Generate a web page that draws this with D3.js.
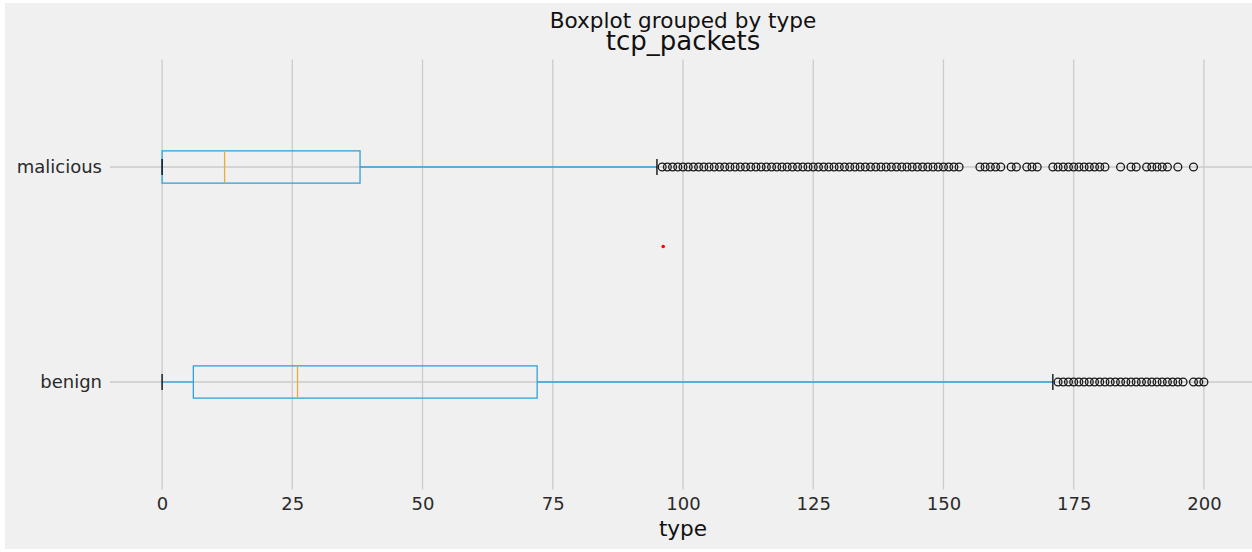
<!DOCTYPE html>
<html>
<head>
<meta charset="utf-8">
<script src="https://cdn.jsdelivr.net/npm/d3@7"></script>
<style>
  html, body { margin: 0; padding: 0; background: #ffffff; }
  svg { display: block; }
  text { font-family: "DejaVu Sans", sans-serif; }
</style>
</head>
<body>
<svg id="chart" width="1252" height="552"></svg>
<script>
// tcp_packets distribution per traffic type (box statistics + fliers)
const categories   = ["benign", "malicious"];
const positions    = [1, 2];
const whiskerLow   = [0, 0];
const q1           = [6, 0];
const medians      = [26, 12];
const q3           = [72, 38];
const whiskerHigh  = [171, 95];

const benignFliers = [
  172, 173, 174, 175, 176, 177, 178, 179, 180, 181, 182, 183, 184, 185,
  186, 187, 188, 189, 190, 191, 192, 193, 194, 195, 196, 198, 199, 200
];
const maliciousFliers = [
  96, 97, 98, 99, 100, 101, 102, 103, 104, 105, 106, 107, 108, 109, 110,
  111, 112, 113, 114, 115, 116, 117, 118, 119, 120, 121, 122, 123, 124, 125,
  126, 127, 128, 129, 130, 131, 132, 133, 134, 135, 136, 137, 138, 139, 140,
  141, 142, 143, 144, 145, 146, 147, 148, 149, 150, 151, 152, 153,
  157, 158, 159, 160, 161, 163, 164, 166, 167, 168,
  171, 172, 173, 174, 175, 176, 177, 178, 179, 180, 181,
  184, 186, 187, 189, 190, 191, 192, 193, 195, 198
];
const fliers = [benignFliers, maliciousFliers];

// single highlighted point
const markerX = [96.2];
const markerY = [1.63];

const xTicks = [0, 25, 50, 75, 100, 125, 150, 175, 200];

const svg = d3.select("#chart");

// figure background
svg.append("rect")
  .attr("x", 5).attr("y", 3)
  .attr("width", 1247).attr("height", 546)
  .attr("fill", "#f0f0f0");

const x = d3.scaleLinear().domain([-10, 210]).range([110, 1256]);
const y = d3.scaleLinear().domain([0.5, 2.5]).range([489.5, 59.5]);
const boxHalf = (y(0) - y(0.15)) / 2;
const capHalf = boxHalf / 2;

const plot = svg.append("g");

// grid
plot.append("g").selectAll("line")
  .data(xTicks).join("line")
  .attr("x1", d => x(d)).attr("x2", d => x(d))
  .attr("y1", y(2.5)).attr("y2", y(0.5))
  .attr("stroke", "#cbcbcb").attr("stroke-width", 1.3);
plot.append("g").selectAll("line")
  .data(positions).join("line")
  .attr("x1", x(-10)).attr("x2", x(210))
  .attr("y1", d => y(d)).attr("y2", d => y(d))
  .attr("stroke", "#cbcbcb").attr("stroke-width", 1.3);

// x axis labels
const xAxis = d3.axisBottom(x).tickValues(xTicks).tickSize(0).tickPadding(0);
const gx = svg.append("g").attr("transform", `translate(0,${y(0.5)})`).call(xAxis);
gx.select(".domain").remove();
gx.selectAll("text")
  .attr("dy", null).attr("y", 20)
  .attr("font-size", 18).attr("fill", "#2a2a2a")
  .attr("font-family", "DejaVu Sans");

// y axis labels
const yAxis = d3.axisLeft(y).tickValues(positions).tickSize(0).tickPadding(0)
  .tickFormat((d, i) => categories[i]);
const gy = svg.append("g").attr("transform", `translate(${x(-10) - 8},0)`).call(yAxis);
gy.select(".domain").remove();
gy.selectAll("text")
  .attr("font-size", 18).attr("fill", "#2a2a2a")
  .attr("font-family", "DejaVu Sans");

// boxes
const blue = "#30a2da";
const stats = positions.map((p, i) => ({
  p, lo: whiskerLow[i], q1: q1[i], med: medians[i], q3: q3[i], hi: whiskerHigh[i], fl: fliers[i]
}));

const g = plot.selectAll("g.box").data(stats).join("g").attr("class", "box");

g.append("rect")
  .attr("x", d => x(d.q1)).attr("y", d => y(d.p) - boxHalf)
  .attr("width", d => x(d.q3) - x(d.q1)).attr("height", boxHalf * 2)
  .attr("fill", "none").attr("stroke", blue).attr("stroke-width", 1.3);

// whiskers
g.append("line")
  .attr("x1", d => x(d.lo)).attr("x2", d => x(d.q1))
  .attr("y1", d => y(d.p)).attr("y2", d => y(d.p))
  .attr("stroke", blue).attr("stroke-width", 1.3);
g.append("line")
  .attr("x1", d => x(d.q3)).attr("x2", d => x(d.hi))
  .attr("y1", d => y(d.p)).attr("y2", d => y(d.p))
  .attr("stroke", blue).attr("stroke-width", 1.3);

// caps
["lo", "hi"].forEach(k => {
  g.append("line")
    .attr("x1", d => x(d[k])).attr("x2", d => x(d[k]))
    .attr("y1", d => y(d.p) - capHalf).attr("y2", d => y(d.p) + capHalf)
    .attr("stroke", "#000").attr("stroke-width", 1.3);
});

// medians
g.append("line")
  .attr("x1", d => x(d.med)).attr("x2", d => x(d.med))
  .attr("y1", d => y(d.p) - boxHalf).attr("y2", d => y(d.p) + boxHalf)
  .attr("stroke", "#e5ae38").attr("stroke-width", 1.3);

// fliers
g.each(function(d) {
  d3.select(this).selectAll("circle")
    .data(d.fl).join("circle")
    .attr("cx", v => x(v)).attr("cy", y(d.p))
    .attr("r", 3.9)
    .attr("fill", "none").attr("stroke", "#1a1a1a").attr("stroke-width", 1.3);
});

// highlighted point
plot.selectAll("circle.mark")
  .data(markerX.map((v, i) => [v, markerY[i]]))
  .join("circle").attr("class", "mark")
  .attr("cx", d => x(d[0])).attr("cy", d => y(d[1]))
  .attr("r", 1.8).attr("fill", "#ff0000");

// titles
const cx = (x(-10) + x(210)) / 2;
svg.append("text")
  .attr("x", cx).attr("y", 28).attr("text-anchor", "middle")
  .attr("font-size", 21.6).attr("fill", "#111")
  .text("Boxplot grouped by type");
svg.append("text")
  .attr("x", cx).attr("y", 50).attr("text-anchor", "middle")
  .attr("font-size", 26).attr("fill", "#111")
  .text("tcp_packets");
svg.append("text")
  .attr("x", cx).attr("y", 536).attr("text-anchor", "middle")
  .attr("font-size", 21.6).attr("fill", "#111")
  .text("type");
</script>
</body>
</html>
